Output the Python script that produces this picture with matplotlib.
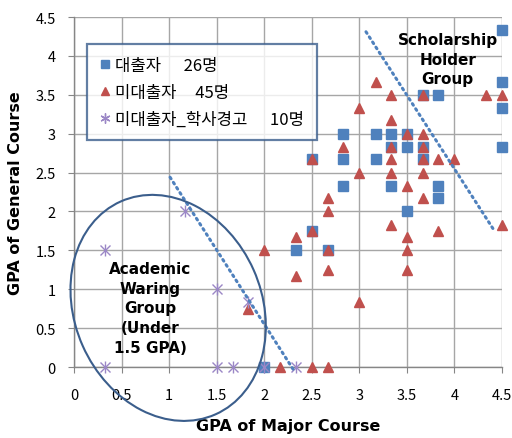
import matplotlib
matplotlib.use("Agg")
import matplotlib.pyplot as plt
from matplotlib.patches import Ellipse
from matplotlib.transforms import IdentityTransform
from matplotlib.lines import Line2D

plt.rcParams['font.family'] = ['Noto Sans CJK KR', 'DejaVu Sans']

# ---- data ----
loan_x = [4.5, 4.5, 3.67, 3.83, 4.5, 2.83, 3.17, 3.33, 3.5, 3.33, 3.5, 3.67, 4.5,
          2.83, 3.17, 3.67, 2.5, 2.83, 3.33, 3.83, 3.83, 3.5, 2.5, 2.33, 2.67, 2.0]
loan_y = [4.33, 3.67, 3.5, 3.5, 3.33, 3.0, 3.0, 3.0, 3.0, 2.83, 2.83, 2.83, 2.83,
          2.67, 2.67, 2.67, 2.67, 2.33, 2.33, 2.33, 2.17, 2.0, 1.75, 1.5, 1.5, 0.0]

noloan_x = [3.17, 3.33, 3.67, 4.33, 4.5, 3.0, 3.33, 3.5, 3.67, 2.83, 3.33, 3.67, 2.5,
            3.33, 3.67, 3.83, 4.0, 3.0, 3.33, 3.67, 3.5, 2.67, 3.67, 2.67, 3.33, 3.83,
            4.5, 2.33, 2.5, 3.5, 2.0, 2.67, 3.5, 2.33, 2.67, 3.5, 3.0, 1.83, 2.17, 2.5, 2.67]
noloan_y = [3.67, 3.5, 3.5, 3.5, 3.5, 3.33, 3.17, 3.0, 3.0, 2.83, 2.83, 2.83, 2.67,
            2.67, 2.67, 2.67, 2.67, 2.5, 2.5, 2.5, 2.33, 2.17, 2.17, 2.0, 1.83, 1.75,
            1.83, 1.67, 1.75, 1.67, 1.5, 1.5, 1.5, 1.17, 1.25, 1.25, 0.83, 0.75, 0.0, 0.0, 0.0]

warn_x = [1.17, 0.33, 1.5, 1.83, 0.33, 1.5, 1.67, 2.0, 2.33]
warn_y = [2.0, 1.5, 1.0, 0.83, 0.0, 0.0, 0.0, 0.0, 0.0]

labels = ["대출자      26명", "미대출자     45명", "미대출자_학사경고      10명"]

trend1_x = [1.01, 2.32]
trend1_y = [2.44, -0.06]
trend2_x = [3.07, 4.41]
trend2_y = [4.31, 1.77]

ticks = [0, 0.5, 1, 1.5, 2, 2.5, 3, 3.5, 4, 4.5]
tick_labels = ["0", "0.5", "1", "1.5", "2", "2.5", "3", "3.5", "4", "4.5"]

BLUE = "#4F81BD"
RED = "#C0504D"
PURPLE = "#9B87C6"
GRID = "#A6A6A6"

fig = plt.figure(figsize=(5.12, 4.39), dpi=100)
ax = fig.add_axes([74/512, 1-368/439, 428/512, 350/439])

ax.set_xlim(0, 4.5)
ax.set_ylim(0, 4.5)
ax.set_xticks(ticks)
ax.set_xticklabels(tick_labels)
ax.set_yticks(ticks)
ax.set_yticklabels(tick_labels)
ax.grid(True, color=GRID, linewidth=1.0)
ax.set_axisbelow(True)
for s in ["top", "right"]:
    ax.spines[s].set_visible(False)
for s in ["left", "bottom"]:
    ax.spines[s].set_color("#868686")
    ax.spines[s].set_linewidth(1.0)
ax.tick_params(direction="out", length=4, color="#868686", labelsize=10.5)
ax.tick_params(axis="x", pad=11)
ax.tick_params(axis="y", pad=9)

h1, = ax.plot(loan_x, loan_y, "s", color=BLUE, markersize=6.5, markeredgecolor=BLUE,
              linestyle="none", clip_on=False, zorder=3)
h2, = ax.plot(noloan_x, noloan_y, "^", color=RED, markersize=7, markeredgecolor=RED,
              linestyle="none", clip_on=False, zorder=4)
ax.plot(warn_x, warn_y, "x", color=PURPLE, markersize=6.5, markeredgewidth=1.0,
        linestyle="none", clip_on=False, zorder=5)
ax.plot(warn_x, warn_y, "|", color=PURPLE, markersize=8.5, markeredgewidth=1.0,
        linestyle="none", clip_on=False, zorder=5)
h3 = Line2D([], [], marker=(6, 2, 0), color=PURPLE, markersize=8, linestyle="none",
            markeredgewidth=1.0)

ax.plot(trend1_x, trend1_y, linestyle=(0, (0.6, 1.4)), color=BLUE, linewidth=2.2,
        dash_capstyle="round", clip_on=False, zorder=6)
ax.plot(trend2_x, trend2_y, linestyle=(0, (0.6, 1.4)), color=BLUE, linewidth=2.2,
        dash_capstyle="round", clip_on=False, zorder=6)

leg = ax.legend([h1, h2, h3], labels, loc="upper left",
                bbox_to_anchor=(13/428, 1-27/350), frameon=True, fancybox=False,
                fontsize=12, handlelength=0.6, handletextpad=0.35, labelspacing=0.6,
                borderpad=0.75, borderaxespad=0, markerscale=0.9)
leg.get_frame().set_edgecolor("#3B5E8C")
leg.get_frame().set_linewidth(1.6)
leg.set_zorder(10)

ax.text(3.93, 3.96, "Scholarship\nHolder\nGroup", ha="center", va="center",
        fontsize=11, fontweight="bold", family=["DejaVu Sans"], linespacing=1.4, zorder=11)
ax.text(0.80, 0.76, "Academic\nWaring\nGroup\n(Under\n1.5 GPA)", ha="center", va="center",
        fontsize=11, fontweight="bold", family=["DejaVu Sans"], linespacing=1.38, zorder=11)

# ellipse around warning group (center given in data coords)
fig.canvas.draw()
cx, cy = ax.transData.transform((0.99, 0.76))
ell = Ellipse((cx, cy), width=187, height=233, angle=24, transform=IdentityTransform(),
              fill=False, edgecolor="#3B5E8C", linewidth=1.5, zorder=7, clip_on=False)
fig.add_artist(ell)

ax.set_xlabel("GPA of Major Course", fontsize=11.5, fontweight="bold", family=["DejaVu Sans"],
              labelpad=12)
ax.set_ylabel("GPA of General Course", fontsize=11.5, fontweight="bold", family=["DejaVu Sans"],
              labelpad=9)

fig.savefig("out.png", dpi=100)
